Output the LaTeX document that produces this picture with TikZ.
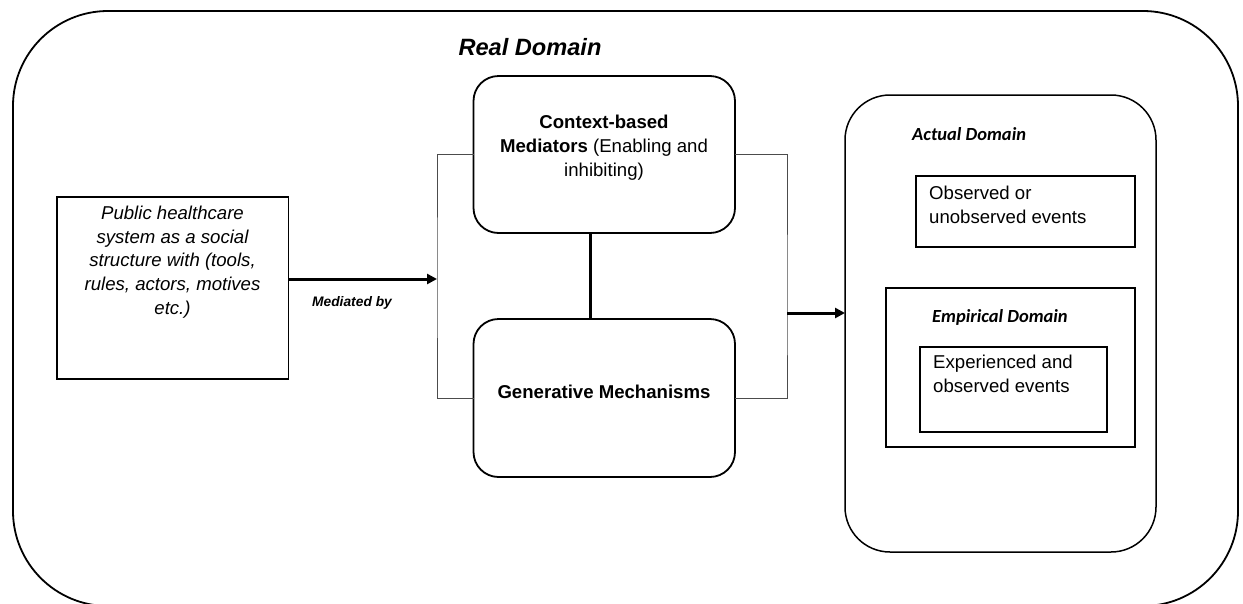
\documentclass[tikz,border=0pt]{standalone}
\usepackage{fontspec}
\setmainfont{Liberation Sans}
\newfontfamily\carl{Carlito}
\usetikzlibrary{arrows.meta}
\begin{document}
\begin{tikzpicture}[x=1pt,y=-1pt,
  boxnode/.style={draw=black,inner sep=0pt,outer sep=0pt},
  bodytext/.style={inner sep=0pt,align=center,font=\fontsize{18.6}{24}\selectfont},
  lefttext/.style={inner sep=0pt,align=left,anchor=west,font=\fontsize{18.6}{24.5}\selectfont},
  domtext/.style={inner sep=0pt,anchor=west,font=\carl\fontsize{18.5}{22}\selectfont\bfseries\itshape},
  bracket/.style={draw=black!70,line width=1pt},
  arrowline/.style={line width=3pt,-{Triangle[length=10pt,width=10pt]}},
  link/.style={line width=3pt}]
\clip (0,0) rectangle (1243,603);
\fill[white] (0,0) rectangle (1243,603);
% outer real domain
\draw[line width=1.8pt,rounded corners=95pt] (13,11) rectangle (1238,606);
\node[inner sep=0pt,font=\fontsize{23.6}{28}\selectfont\bfseries\itshape] (real) at (530,47) {Real Domain};
% public box
\node[boxnode,line width=1.8pt,minimum width=231.5pt,minimum height=182pt] (pub) at (172.75,288) {};
\node[bodytext,font=\fontsize{18.6}{23.7}\selectfont\itshape] (pubtxt) at (172.5,262) {Public healthcare\\system as a social\\structure with (tools,\\rules, actors, motives\\etc.)};
% context and generative boxes
\node[boxnode,line width=1.8pt,rounded corners=25pt,minimum width=261.5pt,minimum height=157pt] (ctx) at (604.25,154.5) {};
\node[bodytext] (ctxtxt) at (604,148) {\textbf{Context-based}\\\textbf{Mediators} (Enabling and\\inhibiting)};
\node[boxnode,line width=1.8pt,rounded corners=25pt,minimum width=261.5pt,minimum height=158pt] (gen) at (604.25,398) {};
\node[bodytext] (gentxt) at (604,392) {\textbf{Generative Mechanisms}};
% actual domain
\node[boxnode,line width=1.5pt,rounded corners=45pt,minimum width=311pt,minimum height=457pt] (act) at (1000.5,323.5) {};
\node[domtext] (acttxt) at (912,134) {Actual Domain};
\node[boxnode,line width=1.2pt,minimum width=219pt,minimum height=71pt] (obs) at (1025.5,211.5) {};
\node[lefttext] (obstxt) at (929,205) {Observed or\\unobserved events};
\node[boxnode,line width=2.4pt,minimum width=249pt,minimum height=159pt] (emp) at (1010.5,367.5) {};
\node[domtext] (emptxt) at (932,317) {Empirical Domain};
\node[boxnode,line width=1.2pt,minimum width=187pt,minimum height=85pt] (exp) at (1013.5,389.5) {};
\node[lefttext] (exptxt) at (933,374) {Experienced and\\observed events};
% connectors
\coordinate (bl) at (437,279);
\coordinate (br) at (787,313);
\draw[bracket] (ctx.west) -| (bl) |- (gen.west);
\draw[bracket] (ctx.east) -| (br) |- (gen.east);
\draw[arrowline] (pub.east |- bl) -- (bl);
\draw[arrowline] (br) -- (act.west |- br);
\draw[link] ([xshift=-14pt]ctx.south) -- ([xshift=-14pt]gen.north);
\node[inner sep=0pt,font=\fontsize{13.8}{16}\selectfont\bfseries\itshape] (med) at (352,303) {Mediated by};
\end{tikzpicture}
\end{document}
